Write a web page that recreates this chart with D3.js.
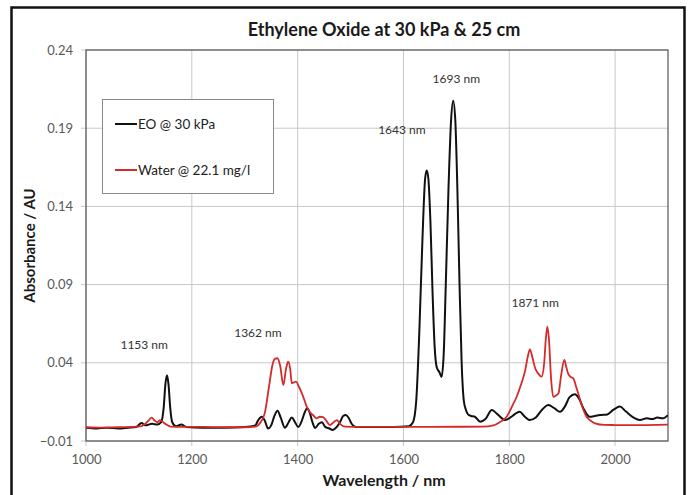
<!DOCTYPE html>
<html><head><meta charset="utf-8">
<script src="https://cdn.jsdelivr.net/npm/d3@7"></script>
<style>body{margin:0;background:#fff}svg{display:block}text{font-family:Lato,"Open Sans",sans-serif}</style>
</head><body>
<svg id="c" width="691" height="495"></svg>
<script>
const title = "Ethylene Oxide at 30 kPa & 25 cm";
const xTicks = [1000, 1200, 1400, 1600, 1800, 2000];
const yTicks = [-0.01, 0.04, 0.09, 0.14, 0.19, 0.24];
const seriesNames = ["EO @ 30 kPa", "Water @ 22.1 mg/l"];
const seriesColors = ["#111111", "#d42a2a"];
const eoWave = [1000,1020,1040,1060,1080,1095,1105,1112,1125,1135,1142,1147,1150,1153,1156,1159,1163,1170,1180,1190,1220,1260,1300,1320,1325,1332,1338,1344,1350,1356,1362,1368,1376,1383,1389,1395,1401,1408,1413,1418,1423,1428,1433,1440,1446,1452,1460,1466,1474,1480,1486,1491,1496,1502,1510,1540,1580,1610,1618,1624,1630,1636,1641,1644,1647,1651,1655,1659,1663,1668,1672,1676,1680,1685,1690,1694,1698,1702,1706,1710,1714,1718,1722,1728,1735,1745,1755,1767,1778,1792,1806,1814,1820,1828,1839,1850,1862,1874,1885,1896,1905,1914,1924,1932,1940,1952,1962,1971,1985,1997,2009,2020,2035,2047,2060,2070,2080,2090,2100];
const eoAbs = [-0.0015,-0.002,-0.0015,-0.002,-0.0015,-0.001,0.0015,0.0,0.001,0.0005,0.002,0.012,0.026,0.032,0.026,0.012,0.002,-0.0005,0.0005,-0.001,-0.0015,-0.0015,-0.001,0.0,0.003,0.0055,0.003,-0.002,0.0,0.006,0.0094,0.005,-0.0015,0.002,0.005,0.002,-0.001,0.003,0.008,0.011,0.008,0.002,-0.0017,0.001,0.002,-0.001,-0.002,-0.003,-0.001,0.002,0.006,0.0066,0.005,0.001,-0.001,-0.001,-0.001,-0.0005,0.002,0.015,0.060,0.120,0.158,0.163,0.158,0.130,0.085,0.050,0.037,0.034,0.031,0.045,0.090,0.150,0.195,0.2076,0.195,0.150,0.090,0.040,0.016,0.010,0.007,0.006,0.0055,0.0023,0.004,0.0098,0.007,0.0034,0.006,0.008,0.0087,0.006,0.0034,0.005,0.010,0.013,0.011,0.0087,0.012,0.018,0.0199,0.017,0.011,0.0055,0.006,0.0066,0.007,0.010,0.012,0.009,0.005,0.0034,0.0045,0.004,0.005,0.0045,0.0065];
const waterWave = [1000,1030,1060,1090,1105,1112,1118,1124,1130,1135,1140,1146,1152,1160,1180,1220,1260,1300,1320,1330,1338,1346,1352,1357,1362,1367,1373,1378,1382,1386,1389,1393,1397,1402,1408,1413,1417,1423,1429,1436,1442,1448,1454,1461,1468,1474,1480,1490,1520,1560,1600,1650,1700,1750,1770,1782,1795,1805,1814,1823,1830,1835,1839,1844,1849,1855,1861,1866,1869,1872,1875,1879,1883,1888,1893,1898,1904,1908,1911,1916,1921,1927,1934,1940,1946,1954,1962,1980,2000,2030,2060,2100];
const waterAbs = [-0.0012,-0.0015,-0.0012,-0.001,-0.0005,0.001,0.003,0.0049,0.003,0.002,0.0034,0.002,0.0005,-0.0008,-0.001,-0.001,-0.0012,-0.0012,-0.0008,0.002,0.008,0.025,0.038,0.0425,0.0429,0.038,0.0258,0.036,0.0407,0.036,0.0269,0.0275,0.0279,0.025,0.0205,0.016,0.012,0.0085,0.0066,0.0045,0.0055,0.0053,0.003,0.0002,0.002,0.0034,0.001,-0.0008,-0.001,-0.001,-0.001,-0.001,-0.0009,-0.0008,0.0,0.002,0.0055,0.012,0.0183,0.0269,0.035,0.044,0.0486,0.043,0.0365,0.033,0.0311,0.040,0.055,0.0631,0.055,0.030,0.0183,0.019,0.0205,0.032,0.0418,0.037,0.0333,0.031,0.0301,0.024,0.0162,0.010,0.0055,0.003,0.0013,0.0003,0.0002,0.0001,0.0002,0.0005];
const annoLabels = ["1153 nm","1362 nm","1643 nm","1693 nm","1871 nm"];
const annoX = [1110, 1325, 1597, 1700, 1849];
const annoY = [0.0488, 0.0565, 0.186, 0.219, 0.0757];

const svg = d3.select("#c");
const m = {l:86, r:668, t:50, b:441};
const x = d3.scaleLinear().domain([1000,2100]).range([m.l,m.r]);
const y = d3.scaleLinear().domain([-0.01,0.24]).range([m.b,m.t]);

svg.append("rect").attr("x",11.5).attr("y",7.5).attr("width",673).attr("height",520)
  .attr("fill","#fff").attr("stroke","#111").attr("stroke-width",2.5);

svg.append("text").attr("x",384).attr("y",36).attr("text-anchor","middle")
  .attr("font-size",18).attr("font-weight","bold").attr("fill","#1a1a1a").text(title);

// grid
svg.append("g").selectAll("line").data(xTicks).join("line")
  .attr("x1",d=>x(d)).attr("x2",d=>x(d)).attr("y1",m.t).attr("y2",m.b+5)
  .attr("stroke","#c8c8c8").attr("stroke-width",1);
svg.append("g").selectAll("line").data(yTicks).join("line")
  .attr("x1",m.l-5).attr("x2",m.r).attr("y1",d=>y(d)).attr("y2",d=>y(d))
  .attr("stroke","#c8c8c8").attr("stroke-width",1);

svg.append("rect").attr("x",m.l).attr("y",m.t).attr("width",m.r-m.l).attr("height",m.b-m.t)
  .attr("fill","none").attr("stroke","#555").attr("stroke-width",1.2);

// axes labels
const xAxis = d3.axisBottom(x).tickValues(xTicks).tickSize(0).tickPadding(14).tickFormat(d3.format("d"));
const gx = svg.append("g").attr("transform",`translate(0,${m.b})`).call(xAxis);
gx.select(".domain").remove();
gx.selectAll("text").attr("font-size",13).attr("fill","#595959").attr("font-family","Lato,'Open Sans',sans-serif");
const yAxis = d3.axisLeft(y).tickValues(yTicks).tickSize(0).tickPadding(13).tickFormat(d3.format(".2f"));
const gy = svg.append("g").attr("transform",`translate(${m.l},0)`).call(yAxis);
gy.select(".domain").remove();
gy.selectAll("text").attr("font-size",13).attr("fill","#595959").attr("font-family","Lato,'Open Sans',sans-serif");

svg.append("text").attr("x",384).attr("y",486).attr("text-anchor","middle")
  .attr("font-size",16).attr("font-weight","bold").attr("fill","#1a1a1a").text("Wavelength / nm");
svg.append("text").attr("transform",`translate(35,${(m.t+m.b)/2}) rotate(-90)`).attr("text-anchor","middle")
  .attr("font-size",15).attr("font-weight","bold").attr("fill","#1a1a1a").text("Absorbance / AU");

// lines
svg.append("clipPath").attr("id","pc").append("rect")
  .attr("x",m.l).attr("y",m.t).attr("width",m.r-m.l).attr("height",m.b-m.t);
const line = d3.line().x(d=>x(d[0])).y(d=>y(d[1])).curve(d3.curveMonotoneX);
const water = waterWave.map((w,i)=>[w,waterAbs[i]]);
const eo = eoWave.map((w,i)=>[w,eoAbs[i]]);
const lg = svg.append("g").attr("clip-path","url(#pc)");
lg.append("path").datum(eo).attr("d",line).attr("fill","none").attr("stroke",seriesColors[0]).attr("stroke-width",2);
lg.append("path").datum(water).attr("d",line).attr("fill","none").attr("stroke",seriesColors[1]).attr("stroke-width",1.8);

// annotations
svg.append("g").selectAll("text").data(annoLabels).join("text")
  .attr("x",(d,i)=>x(annoX[i])).attr("y",(d,i)=>y(annoY[i])).attr("text-anchor","middle")
  .attr("font-size",12).attr("fill","#333").text(d=>d);

// legend
const leg = svg.append("g");
leg.append("rect").attr("x",102.5).attr("y",99.5).attr("width",171).attr("height",94)
  .attr("fill","#fff").attr("stroke","#888").attr("stroke-width",1);
seriesNames.forEach((n,i)=>{
  const yy = 124 + i*46;
  leg.append("line").attr("x1",115).attr("x2",137).attr("y1",yy).attr("y2",yy)
    .attr("stroke",seriesColors[i]).attr("stroke-width",2);
  leg.append("text").attr("x",138).attr("y",yy+4.5).attr("font-size",13.5).attr("fill","#222").text(n);
});
</script>
</body></html>
